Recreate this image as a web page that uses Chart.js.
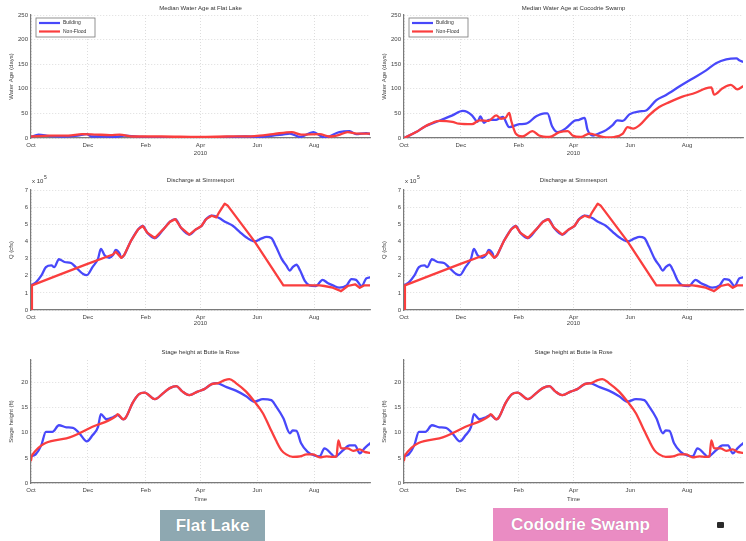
<!DOCTYPE html>
<html>
<head>
<meta charset="utf-8">
<script src="https://cdn.jsdelivr.net/npm/chart.js@4/dist/chart.umd.min.js"></script>
<style>
  html, body { margin: 0; padding: 0; background: #fff; }
  body { position: relative; width: 746px; height: 541px; overflow: hidden; font-family: "Liberation Sans", Arial, sans-serif; }
  .panel { position: absolute; }
  .panel canvas { display: block; }
  .tag { position: absolute; color: #fff; font-weight: bold; font-size: 17px; display: flex; align-items: center; justify-content: center; text-shadow: 0 0 1px rgba(0,0,0,0.25); }
  .icon { position: absolute; left: 717px; top: 522px; width: 7px; height: 6px; background: #2a2a2a; border-radius: 1px; }
</style>
</head>
<body>
<div class="panel" style="left:0;top:0"><canvas id="ageFlat" width="373" height="160"></canvas></div>
<div class="panel" style="left:373px;top:0"><canvas id="ageCoco" width="373" height="160"></canvas></div>
<div class="panel" style="left:0;top:160px"><canvas id="qFlat" width="373" height="170"></canvas></div>
<div class="panel" style="left:373px;top:160px"><canvas id="qCoco" width="373" height="170"></canvas></div>
<div class="panel" style="left:0;top:330px"><canvas id="stFlat" width="373" height="175"></canvas></div>
<div class="panel" style="left:373px;top:330px"><canvas id="stCoco" width="373" height="175"></canvas></div>

<div class="tag" style="left:160px;top:510px;width:105px;height:31px;background:#8ea8b1;">Flat Lake</div>
<div class="tag" style="left:493px;top:508px;width:175px;height:33px;background:#ea8cc3;">Cododrie Swamp</div>
<div class="icon"></div>

<script>
// Days counted from 1 Oct 2009 (water year 2010)
const monthDays   = [0, 61, 123, 182, 243, 304];
const monthLabels = ['Oct', 'Dec', 'Feb', 'Apr', 'Jun', 'Aug'];
const seriesNames = ['Building', 'Non-Flood'];

// Median water age at Flat Lake (days)
const flatBuildDays = [0, 8, 20, 35, 50, 60, 65, 80, 90, 100, 120, 150, 180, 210, 230, 245, 260, 270, 278, 289, 303, 315, 331, 342, 349, 360, 364];
const flatBuildAge  = [2, 7, 4, 3, 5, 8, 3, 3, 2, 5, 2, 1, 1, 2, 3, 2, 5, 7, 9, 2, 12, 1, 12, 14, 8, 10, 8];
const flatNoFloodDays = [0, 20, 40, 55, 70, 85, 95, 110, 140, 180, 210, 240, 260, 280, 290, 310, 320, 330, 340, 350, 364];
const flatNoFloodAge  = [3, 5, 5, 8, 7, 6, 7, 3, 3, 2, 3, 4, 8, 12, 7, 8, 3, 6, 12, 9, 9];

// Median water age at Cocodrie Swamp (days)
const cocoBuildDays = [0, 13, 23, 38, 52, 63, 68, 73, 79, 82, 86, 91, 99, 106, 113, 124, 131, 142, 151, 154, 159, 165, 174, 183, 188, 194, 197, 203, 210, 217, 224, 229, 235, 242, 253, 260, 271, 281, 296, 310, 324, 335, 346, 357, 360, 364];
const cocoBuildAge  = [0, 12, 24, 35, 46, 55, 53, 46, 33, 44, 31, 37, 37, 43, 22, 28, 29, 44, 50, 50, 24, 12, 20, 35, 37, 41, 17, 5, 10, 16, 26, 36, 35, 48, 54, 56, 77, 87, 105, 121, 137, 152, 160, 162, 158, 155];
const cocoNoFloodDays = [0, 13, 23, 38, 52, 59, 73, 81, 91, 99, 104, 109, 113, 115, 120, 127, 138, 145, 156, 167, 176, 181, 190, 199, 208, 217, 226, 235, 240, 246, 253, 263, 274, 285, 299, 313, 324, 330, 333, 342, 351, 358, 364];
const cocoNoFloodAge  = [0, 12, 24, 35, 33, 29, 28, 36, 35, 46, 39, 41, 51, 36, 9, 3, 14, 5, 2, 12, 14, 5, 2, 9, 5, 1, 2, 9, 22, 19, 26, 46, 63, 73, 84, 92, 101, 103, 88, 101, 108, 99, 105];

// Discharge (x10^5 cfs)
const qBuildDays = [0, 5, 11, 16, 22, 25, 30, 36, 43, 48, 56, 60, 66, 72, 75, 79, 84, 88, 91, 95, 97, 100, 107, 115, 120, 125, 133, 142, 149, 155, 161, 170, 177, 183, 188, 194, 199, 202, 210, 217, 224, 231, 240, 247, 253, 258, 263, 269, 274, 278, 281, 285, 289, 294, 299, 306, 313, 319, 324, 331, 339, 344, 349, 355, 360, 364];
const qBuild     = [1.44, 1.6, 2.0, 2.5, 2.6, 2.5, 2.96, 2.8, 2.74, 2.5, 2.1, 2.04, 2.5, 3.0, 3.56, 3.2, 3.04, 3.2, 3.5, 3.3, 3.04, 3.2, 4.0, 4.7, 4.9, 4.5, 4.2, 4.7, 5.14, 5.3, 4.8, 4.4, 4.7, 4.9, 5.3, 5.5, 5.45, 5.36, 5.1, 4.9, 4.56, 4.24, 4.0, 4.16, 4.26, 4.2, 3.7, 3.0, 2.6, 2.3, 2.5, 2.64, 2.3, 1.7, 1.44, 1.4, 1.76, 1.56, 1.44, 1.3, 1.44, 1.8, 1.76, 1.4, 1.84, 1.9];
const qNoFloodDays = [0, 1, 30, 60, 88, 91, 97, 100, 107, 115, 120, 125, 133, 142, 149, 155, 161, 170, 177, 183, 188, 194, 199, 202, 208, 211, 240, 271, 310, 315, 324, 333, 340, 348, 353, 358, 364];
const qNoFlood     = [0, 1.44, 2.05, 2.68, 3.24, 3.4, 3.04, 3.2, 4.0, 4.7, 4.9, 4.5, 4.2, 4.7, 5.14, 5.3, 4.8, 4.4, 4.7, 4.9, 5.3, 5.5, 5.4, 5.7, 6.2, 6.1, 4.0, 1.44, 1.44, 1.4, 1.3, 1.1, 1.4, 1.5, 1.3, 1.44, 1.44];

// Stage height (ft)
const stBuildDays = [0, 5, 11, 16, 23, 30, 38, 45, 52, 60, 66, 72, 75, 81, 88, 93, 99, 102, 109, 116, 122, 133, 142, 149, 156, 162, 170, 179, 186, 194, 199, 210, 220, 231, 240, 249, 258, 263, 271, 278, 281, 285, 290, 297, 304, 310, 315, 323, 326, 335, 342, 348, 353, 358, 364];
const stBuild     = [5.3, 5.7, 7.5, 10.2, 10.2, 11.5, 11.1, 11.0, 9.9, 8.3, 9.5, 11.2, 13.7, 12.7, 13.1, 13.5, 12.7, 13.1, 15.9, 17.7, 18.0, 16.7, 17.9, 18.9, 19.3, 18.3, 17.5, 18.2, 18.7, 19.7, 19.9, 19.1, 18.4, 17.3, 16.2, 16.7, 16.5, 15.3, 12.9, 9.9, 10.5, 10.4, 7.9, 6.2, 5.5, 5.3, 6.9, 5.7, 5.2, 6.5, 7.5, 7.5, 5.9, 6.9, 7.9];
const stNoFloodDays = [0, 1, 38, 66, 91, 93, 99, 102, 109, 116, 122, 133, 142, 149, 156, 162, 170, 179, 186, 194, 201, 208, 213, 220, 231, 240, 249, 256, 263, 269, 274, 281, 289, 296, 303, 310, 317, 324, 328, 330, 333, 340, 346, 353, 358, 364];
const stNoFlood     = [4.5, 5.5, 8.9, 11.2, 13.3, 13.7, 12.7, 13.1, 15.9, 17.7, 18.0, 16.7, 17.9, 18.9, 19.3, 18.3, 17.5, 18.2, 18.7, 19.7, 19.9, 20.5, 20.7, 19.9, 18.2, 16.2, 13.9, 11.2, 8.5, 6.5, 5.7, 5.2, 5.3, 5.7, 5.7, 5.1, 5.3, 5.2, 5.3, 8.5, 6.9, 6.9, 6.4, 6.7, 6.2, 6.0];

// Axis tick values
const ageTicks   = [0, 50, 100, 150, 200, 250];
const qTicks     = [0, 1, 2, 3, 4, 5, 6, 7];
const stageTicks = [0, 5, 10, 15, 20];

const BLUE = 'rgb(72, 72, 250)';
const RED  = 'rgb(250, 62, 62)';
const FONT = '"Liberation Sans", Arial, sans-serif';

const pts = (xs, ys) => xs.map((x, i) => ({ x, y: ys[i] }));

// Titles, legend box and exponent label drawn around the plot area
const panelText = {
  id: 'panelText',
  afterDraw(chart, args, o) {
    const ctx = chart.ctx, a = chart.chartArea;
    ctx.save();
    ctx.fillStyle = '#333';
    ctx.font = '6px ' + FONT;
    ctx.textAlign = 'center';
    ctx.textBaseline = 'middle';
    ctx.fillText(o.title, (a.left + a.right) / 2, a.top - o.titleGap);

    if (o.exponent) {
      ctx.textAlign = 'left';
      ctx.fillText('x 10', a.left + 1, a.top - 9);
      ctx.font = '5px ' + FONT;
      ctx.fillText('5', a.left + 13, a.top - 12);
    }

    if (o.legend) {
      const x = a.left + 5, y = a.top + 3, w = 59, h = 19;
      ctx.fillStyle = '#fff';
      ctx.fillRect(x, y, w, h);
      ctx.strokeStyle = '#777';
      ctx.lineWidth = 0.8;
      ctx.strokeRect(x, y, w, h);
      chart.data.datasets.slice().sort((p, q) => p.legendRank - q.legendRank).forEach((ds, i) => {
        const ly = y + 5 + i * 8.5;
        ctx.strokeStyle = ds.borderColor;
        ctx.lineWidth = 2.2;
        ctx.beginPath();
        ctx.moveTo(x + 3, ly);
        ctx.lineTo(x + 24, ly);
        ctx.stroke();
        ctx.fillStyle = '#333';
        ctx.font = '5px ' + FONT;
        ctx.textAlign = 'left';
        ctx.fillText(ds.label, x + 27, ly);
      });
    }
    ctx.restore();
  }
};

function makeChart(id, c) {
  const redStyle = c.redLinear ? { cubicInterpolationMode: 'default', tension: 0 } : {};
  new Chart(document.getElementById(id), {
    type: 'line',
    data: {
      datasets: [
        Object.assign({ label: seriesNames[1], data: c.red, borderColor: RED, order: 0, legendRank: 1 }, redStyle),
        { label: seriesNames[0], data: c.blue, borderColor: BLUE, order: 1, legendRank: 0 }
      ]
    },
    options: {
      responsive: false,
      animation: false,
      events: [],
      layout: { padding: { top: c.top, right: 3, left: 0, bottom: 0 } },
      elements: {
        line: { borderWidth: 2.3, tension: 0.25, cubicInterpolationMode: 'monotone', borderCapStyle: 'round', borderJoinStyle: 'round' },
        point: { radius: 0 }
      },
      plugins: {
        legend: { display: false },
        tooltip: { enabled: false },
        title: { display: false },
        panelText: { title: c.title, titleGap: c.titleGap, legend: c.legend, exponent: c.exponent }
      },
      scales: {
        x: {
          type: 'linear', min: 0, max: 364,
          afterFit: s => { s.height = c.bottom; },
          afterBuildTicks: s => { s.ticks = monthDays.map(v => ({ value: v })); },
          ticks: { font: { size: 6, family: FONT }, color: '#444', padding: 4, maxRotation: 0, autoSkip: false,
                   callback: v => monthLabels[monthDays.indexOf(v)] },
          grid: { color: '#d4d4d4', lineWidth: 0.8, drawTicks: false },
          border: { color: '#7a7a7a', width: 1.2, dash: [1, 2] },
          title: { display: true, text: c.xTitle, font: { size: 6, family: FONT }, color: '#444', padding: { top: 0, bottom: c.xTitlePad } }
        },
        y: {
          min: c.yMin, max: c.yMax,
          afterFit: s => { s.width = 31; },
          afterBuildTicks: s => { s.ticks = c.yTicks.map(v => ({ value: v })); },
          ticks: { font: { size: 6, family: FONT }, color: '#444', padding: 3 },
          grid: { color: '#d4d4d4', lineWidth: 0.8, drawTicks: false },
          border: { color: '#7a7a7a', width: 1.2, dash: [1, 2] },
          title: { display: true, text: c.yTitle, font: { size: 6, family: FONT }, color: '#444', padding: { top: 8, bottom: 0 } }
        }
      }
    },
    plugins: [panelText]
  });
}

const ageCfg = { yMin: 0, yMax: 250, yTicks: ageTicks, yTitle: 'Water Age (days)', xTitle: '2010', top: 15, bottom: 22, titleGap: 7, legend: true, exponent: false, xTitlePad: 3 };
makeChart('ageFlat', Object.assign({}, ageCfg, {
  title: 'Median Water Age at Flat Lake',
  blue: pts(flatBuildDays, flatBuildAge), red: pts(flatNoFloodDays, flatNoFloodAge)
}));
makeChart('ageCoco', Object.assign({}, ageCfg, {
  title: 'Median Water Age at Cocodrie Swamp',
  blue: pts(cocoBuildDays, cocoBuildAge), red: pts(cocoNoFloodDays, cocoNoFloodAge)
}));

// Routed (Non-Flood) discharge is piecewise linear, so it is drawn without smoothing
const qCfg = { yMin: 0, yMax: 7, yTicks: qTicks, yTitle: 'Q (cfs)', xTitle: '2010', top: 30, bottom: 20, titleGap: 10, legend: false, exponent: true, xTitlePad: 3, redLinear: true,
  title: 'Discharge at Simmesport', blue: pts(qBuildDays, qBuild), red: pts(qNoFloodDays, qNoFlood) };
makeChart('qFlat', qCfg);
makeChart('qCoco', qCfg);

const stCfg = { yMin: 0, yMax: 24.5, yTicks: stageTicks, yTitle: 'Stage height (ft)', xTitle: 'Time', top: 30, bottom: 22, titleGap: 8, legend: false, exponent: false, xTitlePad: 2,
  title: 'Stage height at Butte la Rose', blue: pts(stBuildDays, stBuild), red: pts(stNoFloodDays, stNoFlood) };
makeChart('stFlat', stCfg);
makeChart('stCoco', stCfg);
</script>
</body>
</html>
